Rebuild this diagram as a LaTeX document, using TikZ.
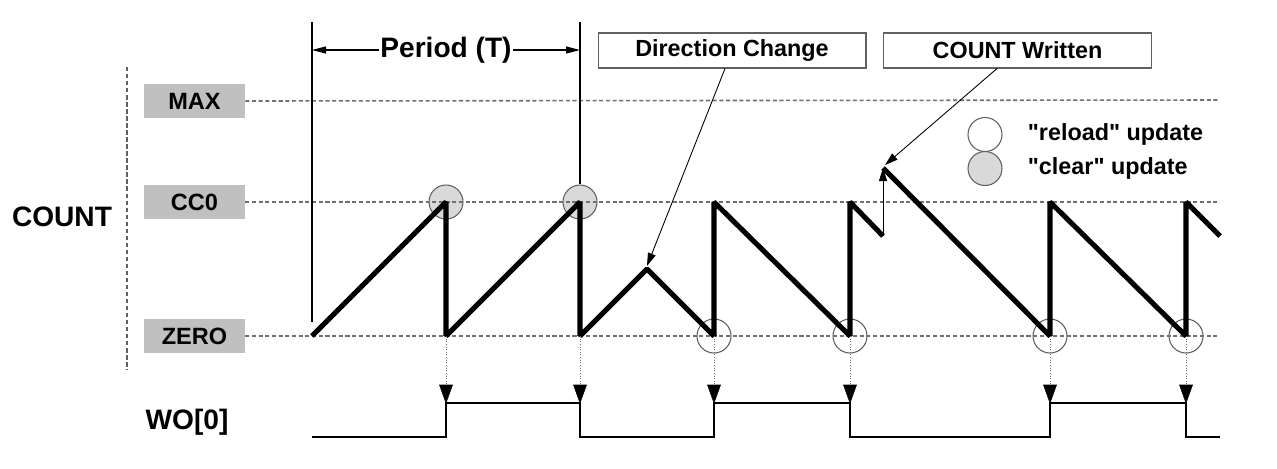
\documentclass[tikz,border=0pt]{standalone}
\usepackage{fontspec}
\setmainfont{Liberation Sans}[Ligatures=TeXOff]
\usetikzlibrary{arrows.meta,positioning,calc}
\definecolor{ink}{HTML}{000000}
\definecolor{lvlgray}{HTML}{C0C0C0}
\definecolor{cleargray}{HTML}{D9D9D9}
\definecolor{rim}{HTML}{606060}
\definecolor{dash}{HTML}{707070}
\tikzset{
  >=Latex,
  every node/.style={text=ink},
  biglbl/.style={font=\bfseries\fontsize{16}{18}\selectfont, inner sep=0pt},
  lvl/.style={fill=lvlgray, minimum width=2.02cm, minimum height=0.68cm, inner sep=0pt,
    font=\bfseries\fontsize{13.4}{15}\selectfont},
  periodlbl/.style={font=\bfseries\fontsize{16}{18}\selectfont, inner sep=0.5pt},
  callout/.style={draw=rim, fill=white, line width=0.6pt, minimum width=5.36cm,
    minimum height=0.7cm, inner sep=0pt, font=\bfseries\fontsize{13.3}{15}\selectfont},
  legendtxt/.style={font=\bfseries\fontsize{13.3}{15}\selectfont, inner sep=0pt},
  clearmk/.style={circle, draw=rim, fill=cleargray, line width=0.6pt, minimum size=0.68cm, inner sep=0pt},
  reloadmk/.style={circle, draw=rim, line width=0.6pt, minimum size=0.68cm, inner sep=0pt},
  levelline/.style={draw=dash, line width=0.9pt, dash pattern=on 2.3pt off 1.5pt},
  axisdash/.style={draw=rim, line width=0.6pt, dash pattern=on 2.5pt off 1.5pt},
  marker/.style={draw=ink, line width=1pt},
  wave/.style={draw=ink, line width=2.9pt, line join=bevel},
  pulse/.style={draw=ink, line width=1.5pt, line join=miter},
  dimarrow/.style={draw=ink, line width=0.6pt, -{Triangle[length=2.8mm,width=1.4mm]}},
  thinarrow/.style={draw=ink, line width=0.5pt, -{Triangle[length=2.6mm,width=1.6mm]}},
  dropline/.style={draw=dash, line width=0.5pt, densely dotted},
  droptip/.style={fill=ink, draw=ink, line width=0.3pt, line join=miter}
}
\begin{document}
\begin{tikzpicture}[x=0.02cm, y=-0.02cm]
  \useasboundingbox (0,0) rectangle (1277,468);

  % signal names
  \node[biglbl] (count) at (62,217) {COUNT};
  \node[biglbl] (wo) at (187,422) {WO[0]};
  \draw[axisdash] (127,67) -- (127,370);

  % count levels
  \node[lvl] (max) at (194.5,101) {MAX};
  \node[lvl] (cc) at (194.5,202) {CC0};
  \node[lvl] (zero) at (194.5,336) {ZERO};

  % update markers
  \foreach \x [count=\i] in {446,580} \node[clearmk] (c\i) at (\x,202) {};
  \foreach \x [count=\i] in {714,850,1050,1186} \node[reloadmk] (r\i) at (\x,336) {};
  \draw[levelline] (max.east) -- (1220,100);
  \draw[levelline] (cc.east) -- (1220,202);
  \draw[levelline] (zero.east) -- (1220,336);

  % period
  \coordinate (p1) at (312,22);
  \coordinate (p2) at (580,22);
  \draw[marker] (p1) -- (312,322);
  \draw[marker] (p2) -- (c2.north);
  \node[periodlbl] (per) at (446,50) {Period (T)};
  \draw[dimarrow] (per.west) -- (per.west -| p1);
  \draw[dimarrow] (per.east) -- (per.east -| p2);

  % callouts
  \node[callout] (dir) at (732,50.5) {Direction Change};
  \node[callout] (wr) at (1017.5,50.5) {COUNT Written};

  % counter
  \draw[wave] (312,336) -- (446,202) -- (446,336) -- (580,202) -- (580,336)
    -- (647,269) coordinate (dc) -- (714,336) -- (714,202) -- (850,336)
    -- (850,202) -- (883,236) coordinate (wbot);
  \draw[wave] (883,168) coordinate (wtop) -- (1050,336) -- (1050,202)
    -- (1186,336) -- (1186,202) -- (1220,236);
  \draw[thinarrow] (wbot) -- (wtop);
  \draw[thinarrow] ([xshift=-0.14cm]dir.south) -- ([yshift=0.06cm]dc);
  \draw[thinarrow] ([xshift=-0.41cm]wr.south) -- ([xshift=0.04cm,yshift=0.06cm]wtop);

  % output
  \foreach \x [count=\i] in {446,580,714,850,1050,1186} {
    \coordinate (z\i) at (\x,336);
    \coordinate (h\i) at (\x,403);
    \draw[dropline] (z\i) -- ($(h\i)+(0,-16)$);
    \filldraw[droptip] (h\i) -- ++(-6.5,-18) -- ++(13,0) -- cycle;
  }
  \draw[pulse] (312,437) -- (446,437) -- (446,403) -- (580,403) -- (580,437)
    -- (714,437) -- (714,403) -- (850,403) -- (850,437) -- (1050,437)
    -- (1050,403) -- (1186,403) -- (1186,437) -- (1220,437);

  % legend
  \node[reloadmk] (lgr) at (985,134.5) {};
  \node[clearmk] (lgc) at (985,168.5) {};
  \node[legendtxt, right=0.5cm of lgr] (lgrtxt) {"reload" update};
  \node[legendtxt, right=0.5cm of lgc] (lgctxt) {"clear" update};
\end{tikzpicture}
\end{document}
